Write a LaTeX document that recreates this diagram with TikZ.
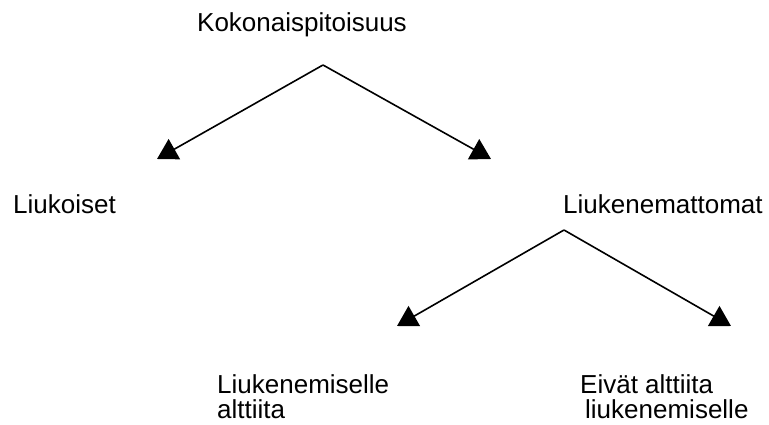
\documentclass[tikz,border=0pt]{standalone}
\usepackage{fontspec}
\setmainfont{Liberation Sans}
\usetikzlibrary{arrows.meta}
\begin{document}
\begin{tikzpicture}[x=1pt,y=-1pt,
  lbl/.style={anchor=base west,inner sep=0pt,font=\fontsize{26}{30}\selectfont},
  conn/.style={line width=1.6pt,-{Triangle[length=20pt,width=23pt]}}]
\useasboundingbox (0,0) rectangle (769,425);
\fill[white] (0,0) rectangle (769,425);
\node[lbl] (koko) at (197,32) {Kokonaispitoisuus};
\node[lbl] (liuk) at (13,214) {Liukoiset};
\node[lbl] (liukm) at (563,214) {Liukenemattomat};
\node[lbl] (alt1) at (217,393) {Liukenemiselle};
\node[lbl] (alt2) at (217,418) {alttiita};
\node[lbl] (eiv1) at (580,393) {Eivät alttiita};
\node[lbl] (eiv2) at (585,418) {liukenemiselle};
\coordinate (a1) at (323,65);
\coordinate (t1l) at (157,159);
\coordinate (t1r) at (491,159);
\coordinate (a2) at (564,230);
\coordinate (t2l) at (397,326);
\coordinate (t2r) at (731,326);
\draw[conn] (a1) -- (t1l);
\draw[conn] (a1) -- (t1r);
\draw[conn] (a2) -- (t2l);
\draw[conn] (a2) -- (t2r);
\end{tikzpicture}
\end{document}
